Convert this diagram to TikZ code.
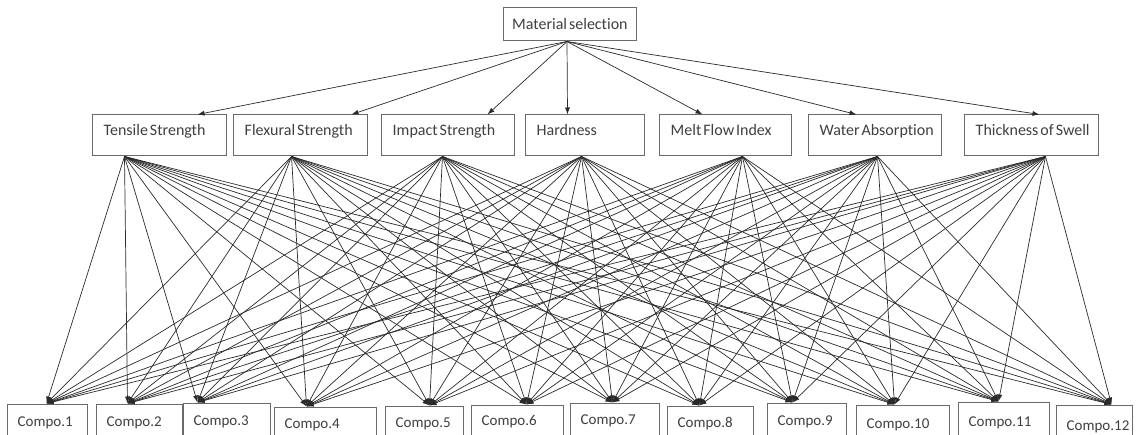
\documentclass[tikz,border=0pt]{standalone}
\usepackage{fontspec}
\setmainfont{Carlito}[WordSpace=0.55,Ligatures={NoCommon}]
\usetikzlibrary{arrows.meta,calc}
\definecolor{boxcol}{HTML}{6A6A6A}
\definecolor{txtcol}{HTML}{404040}
\definecolor{linecol}{HTML}{2A2A2A}
\tikzset{
  box/.style={draw=boxcol,line width=1pt,fill=white,inner sep=0pt,rectangle},
  txt/.style={text=txtcol,font=\fontsize{16}{18}\selectfont,inner sep=0pt,anchor=base west},
  ctxt/.style={txt,font=\fontsize{15}{17}\selectfont},
  arr/.style={draw=linecol,line width=0.7pt,-{Latex[length=7pt,width=5pt]}}
}
\begin{document}
\begin{tikzpicture}[x=1pt,y=-1pt]
\useasboundingbox (0,0) rectangle (1137,435);
% top node
\node[box,minimum width=133pt,minimum height=33pt] (ms) at (569.5,24.5) {};
\node[txt] (mst) at (512,30) {Material selection};
\coordinate (top) at ($(ms.south)+(-2.5,0)$);
% middle criteria
\foreach \i/\l/\r/\tdx/\sdx/\name in {
  1/92/226/106/33/Tensile Strength,
  2/233/367/119/59/Flexural Strength,
  3/381/514/107/62/Impact Strength,
  4/525/644/43/57/Hardness,
  5/659/791/44/84/Melt Flow Index,
  6/808/941/49/70/Water Absorption,
  7/964/1098/76/82/Thickness of Swell}{
  \node[box,minimum width={(\r-\l)*1pt},minimum height=41pt] (m\i) at ({(\l+\r)/2},135.5) {};
  \node[txt] (m\i t) at ({\l+11.5},136) {\name};
  \path (m\i.north west) ++(\tdx,0) coordinate (t\i);
  \path (m\i.south west) ++(\sdx,0) coordinate (s\i);
}
% bottom alternatives
\foreach \i/\l/\r/\t/\bx/\ty in {
  1/7/87/404/47/426,
  2/96/182/404/128/426,
  3/183/270/403/198/425,
  4/274/376/407/307/428,
  5/385/463/406/430/427,
  6/471/563/405/527/425,
  7/570/659/403/613/424,
  8/667/753/406/700/427,
  9/767/846/403/793/425,
  10/856/949/405/895/428,
  11/958/1049/402/999/426,
  12/1056/1132/405/1112/430}{
  \node[box,minimum width={(\r-\l)*1pt},minimum height={(446-\t)*1pt}] (c\i) at ({(\l+\r)/2},{(\t+446)/2}) {};
  \node[ctxt] (c\i t) at ({\l+10.5},\ty) {Compo.\i};
  \path (c\i.north west) ++({\bx-\l},0) coordinate (b\i);
}
% connectors
\foreach \i in {1,...,7}{
  \draw[arr] (top) -- (t\i);
}
\foreach \i in {1,...,7}{
  \foreach \j in {1,...,12}{
    \draw[arr] (s\i) -- (b\j);
  }
}
\end{tikzpicture}
\end{document}
